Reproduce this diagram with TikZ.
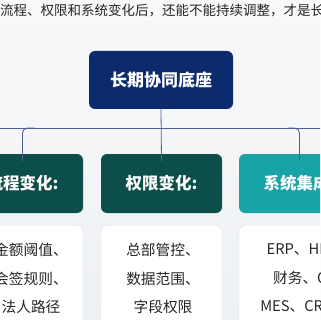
\documentclass[tikz,border=0pt]{standalone}
\usepackage{fontspec}
\newfontfamily\cjk{Noto Sans CJK SC}
\usetikzlibrary{positioning}
\definecolor{navy}{HTML}{0B2B6C}
\definecolor{dkgreen}{HTML}{0C4E49}
\definecolor{teal}{HTML}{18A3A7}
\definecolor{linkblue}{HTML}{4F5E94}
\definecolor{bordergray}{HTML}{D6DCE3}
\definecolor{bgtop}{HTML}{F8F9FA}
\definecolor{bgbot}{HTML}{EEF1F4}
\tikzset{
    hdr/.style={rounded corners=6pt,minimum width=121pt,minimum height=59pt,text=white,
        font=\cjk\bfseries\fontsize{16.5}{20}\selectfont},
    body/.style={draw=bordergray,fill=white,rounded corners=6pt,minimum width=121pt,
        minimum height=110pt,anchor=north},
    txt/.style={align=center,font=\cjk\fontsize{14.7}{28.5}\selectfont,text=black!85},
    link/.style={draw=linkblue,line width=0.8pt}
}
\begin{document}
\begin{tikzpicture}[x=1pt,y=-1pt,>=stealth]
        \useasboundingbox (0,0) rectangle (320,320);
        \clip (0,0) rectangle (320,320);
        \shade[top color=bgtop,bottom color=bgbot] (0,0) rectangle (320,320);%背景
        \node[anchor=west,inner sep=0,text=black!85,font=\cjk\fontsize{13.5}{16}\selectfont] (lead) at (0,10)
            {流程、权限和系统变化后，还能不能持续调整，才是长期};
        \node[fill=navy,rounded corners=6pt,minimum width=144pt,minimum height=58pt,text=white,
            font=\cjk\bfseries\fontsize{17}{20}\selectfont] (base) at (161,80) {长期协同底座};
        %三列标题
        \node[hdr,fill=dkgreen] (hdrA) at (22.5,183.5) {流程变化:};
        \node[hdr,fill=dkgreen] (hdrB) at (161.5,183.5) {权限变化:};
        \node[hdr,fill=teal] (hdrC) at (299.5,183.5) {系统集成:};
        %三列内容框
        \node[body] (boxA) at (22.5,225) {};
        \node[body] (boxB) at (161.5,225) {};
        \node[body] (boxC) at (299.5,225) {};
        \node[txt] (txtA) at (31,278.5) {金额阈值、\\会签规则、\\法人路径};
        \node[txt] (txtB) at (163,278.5) {总部管控、\\数据范围、\\字段权限};
        \node[txt] (txtC) at (305,278.5) {ERP、HR、\\财务、OA\\MES、CRM、};
        %连线
        \coordinate (bus) at (0,128);
        \draw[link] (-10,128) -- (330,128);
        \draw[link] (base.south) -- ([yshift=-7pt]hdrB.north);
        \draw[link,rounded corners=5pt] ([xshift=12pt]hdrA.north |- bus) -| ([yshift=-7pt]hdrA.north);
        \draw[link,rounded corners=5pt] ([xshift=-12pt]hdrC.north |- bus) -| ([yshift=-7pt]hdrC.north);
\end{tikzpicture}
\end{document}
